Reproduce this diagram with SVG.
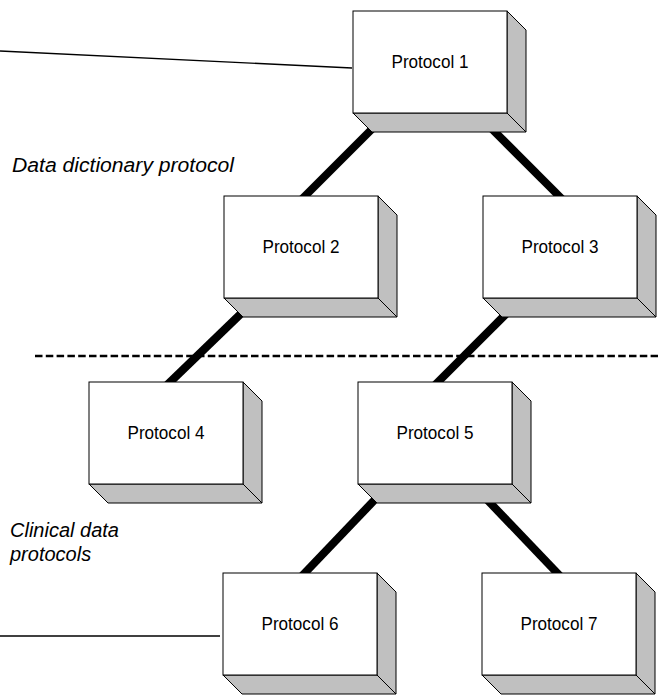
<svg xmlns="http://www.w3.org/2000/svg" width="658" height="695" viewBox="0 0 658 695">
  <style>
    .front { fill: #ffffff; stroke: #000000; stroke-width: 1; }
    .shade { fill: #c0c0c0; stroke: #000000; stroke-width: 1; stroke-linejoin: miter; }
    .label { font-family: "Liberation Sans", Arial, sans-serif; font-size: 18px; fill: #000000; text-anchor: middle; }
    .note { font-family: "Liberation Sans", Arial, sans-serif; font-style: italic; font-size: 20px; fill: #000000; }
    .link { stroke: #000000; stroke-width: 8; stroke-linecap: butt; fill: none; }
    .leader { stroke: #000000; stroke-width: 1.3; fill: none; }
  </style>
  <defs>
    <!-- 3D block: front face 154x102 with 19px bevel to bottom-right -->
    <g id="block">
      <polygon class="shade" points="154,0 173,19 173,121 154,102"/>
      <polygon class="shade" points="0,102 154,102 173,121 19,121"/>
      <rect class="front" x="0" y="0" width="154" height="102"/>
    </g>
  </defs>

  <rect width="658" height="695" fill="#ffffff"/>

  <!-- connectors -->
  <g id="connectors">
    <line class="leader" x1="0" y1="51" x2="352" y2="68"/>
    <line class="leader" x1="0" y1="636" x2="220" y2="636"/>
    <line x1="35" y1="356" x2="658" y2="356" stroke="#000000" stroke-width="2.6" stroke-dasharray="7.5 3.3"/>
    <line class="link" x1="384" y1="117" x2="300" y2="201"/>
    <line class="link" x1="480" y1="117" x2="562" y2="199"/>
    <line class="link" x1="252" y1="303" x2="165" y2="387"/>
    <line class="link" x1="517" y1="303" x2="433" y2="387"/>
    <line class="link" x1="386" y1="488" x2="300" y2="578"/>
    <line class="link" x1="474" y1="486" x2="561" y2="577"/>
  </g>

  <g id="protocol1">
    <use href="#block" x="353" y="11"/>
    <text class="label" x="430" y="68" textLength="77" lengthAdjust="spacingAndGlyphs">Protocol 1</text>
  </g>
  <g id="protocol2">
    <use href="#block" x="224" y="196"/>
    <text class="label" x="301" y="253" textLength="77" lengthAdjust="spacingAndGlyphs">Protocol 2</text>
  </g>
  <g id="protocol3">
    <use href="#block" x="483" y="196"/>
    <text class="label" x="560" y="253" textLength="77" lengthAdjust="spacingAndGlyphs">Protocol 3</text>
  </g>
  <g id="protocol4">
    <use href="#block" x="89" y="382"/>
    <text class="label" x="166" y="439" textLength="77" lengthAdjust="spacingAndGlyphs">Protocol 4</text>
  </g>
  <g id="protocol5">
    <use href="#block" x="358" y="382"/>
    <text class="label" x="435" y="439" textLength="77" lengthAdjust="spacingAndGlyphs">Protocol 5</text>
  </g>
  <g id="protocol6">
    <use href="#block" x="223" y="573"/>
    <text class="label" x="300" y="630" textLength="77" lengthAdjust="spacingAndGlyphs">Protocol 6</text>
  </g>
  <g id="protocol7">
    <use href="#block" x="482" y="573"/>
    <text class="label" x="559" y="630" textLength="77" lengthAdjust="spacingAndGlyphs">Protocol 7</text>
  </g>

  <g id="captions">
    <text class="note" x="12" y="172" textLength="222" lengthAdjust="spacingAndGlyphs">Data dictionary protocol</text>
    <text class="note" x="10" y="537">Clinical data</text>
    <text class="note" x="10" y="561">protocols</text>
  </g>
</svg>
